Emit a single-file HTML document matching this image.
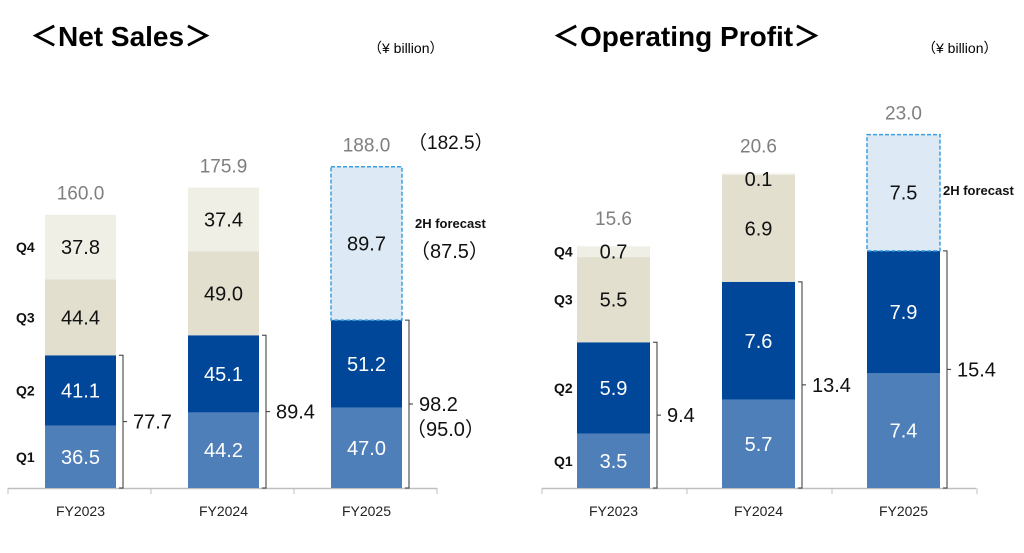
<!DOCTYPE html>
<html><head><meta charset="utf-8"><style>
body{margin:0;background:#fff;width:1024px;height:548px;overflow:hidden}
svg text{font-family:"Liberation Sans","Noto Sans CJK JP",sans-serif}
</style></head><body>
<svg id="c" width="1024" height="548">
<text x="30" y="46" font-size="28" font-weight="bold">＜Net Sales＞</text>
<text x="368" y="53" font-size="14">（¥ billion）</text>
<text x="552" y="46" font-size="28" font-weight="bold">＜Operating Profit＞</text>
<text x="922" y="53" font-size="14">（¥ billion）</text>
</svg>
<script>
const years = ["FY2023","FY2024","FY2025"];
const salesQ1 = [36.5,44.2,47.0];
const salesQ2 = [41.1,45.1,51.2];
const salesQ3 = [44.4,49.0,null];
const salesQ4 = [37.8,37.4,null];
const salesForecast = [null,null,89.7];
const salesTotal = ["160.0","175.9","188.0"];
const salesHalf = ["77.7","89.4","98.2"];
const profitQ1 = [3.5,5.7,7.4];
const profitQ2 = [5.9,7.6,7.9];
const profitQ3 = [5.5,6.9,null];
const profitQ4 = [0.7,0.1,null];
const profitForecast = [null,null,7.5];
const profitTotal = ["15.6","20.6","23.0"];
const profitHalf = ["9.4","13.4","15.4"];

const svg=document.getElementById('c');
const NS='http://www.w3.org/2000/svg';
function mk(t,a,txt){const e=document.createElementNS(NS,t);for(const k in a)e.setAttribute(k,a[k]);if(txt!=null)e.textContent=txt;svg.appendChild(e);return e;}

function chart(cfg){
  const base=488, x0=cfg.x0, step=cfg.step, bw=cfg.bw, s=cfg.scale;
  const ax=mk('line',{x1:cfg.axL,x2:cfg.axR,y1:base+0.5,y2:base+0.5,stroke:'#bfbfbf','stroke-width':1.5});
  
  
  for(let i=0;i<=3;i++){const t=mk('line',{x1:cfg.axL+i*step,x2:cfg.axL+i*step,y1:base,y2:base+6,stroke:'#bfbfbf'});
    
    }
  const segs=[[cfg.q1,'#4f7fb9','#fff','q1'],[cfg.q2,'#00479a','#fff','q2'],[cfg.q3,'#e2dfcf','#111','q3'],[cfg.q4,'#f0efe6','#111','q4'],[cfg.fc,'#dde9f5','#111','forecast']];
  years.forEach((y,i)=>{
    const x=x0+i*step; let top=base; let small=false;
    const c=x+bw/2;
    segs.forEach(([arr,col,tc,nm])=>{
      const v=arr[i]; if(v==null)return;
      const h=v*s; top-=h;
      const r=mk('rect',{x:x,y:top,width:bw,height:h,fill:col});
      if(nm==='forecast'){r.setAttribute('stroke','#3d9fe0');r.setAttribute('stroke-dasharray','4,2');r.setAttribute('stroke-width','1.5');}
      
      
      let ly=top+h/2+7; small=false;
      if(h<14){ ly=top+h/2+7+ (h<4?5:0); small=true; }
      const t=mk('text',{x:c,y:ly,'font-size':20,'text-anchor':'middle',fill:tc},v.toFixed(1));
      
      
    });
    const tt=mk('text',{x:c,y:top-(small?21:15),'font-size':19,'text-anchor':'middle',fill:'#7f7f7f'},cfg.tot[i]);
    
    
    const xl=mk('text',{x:c,y:516,'font-size':14,'text-anchor':'middle',fill:'#222'},y);
    
    
    const h1=(cfg.q1[i]+cfg.q2[i])*s, bt=base-h1, bx=x+bw+3, mid=base-h1/2;
    const b=mk('path',{d:`M${bx} ${bt}H${bx+4}V${base}H${bx} M${bx+4} ${mid}H${bx+8}`,fill:'none',stroke:'#333','stroke-width':1});
    
    
    const hl=mk('text',{x:bx+14,y:mid+7,'font-size':20,fill:'#111'},cfg.half[i]);
    
    
  });
  let top=base;
  [['Q1',cfg.q1],['Q2',cfg.q2],['Q3',cfg.q3],['Q4',cfg.q4]].forEach(([q,arr])=>{
    const h=arr[0]*s; top-=h;
    const t=mk('text',{x:cfg.qx,y:top+h/2+5,'font-size':14,'font-weight':'bold',fill:'#111'},q);
    
    
  });
}
chart({p:'sales',x0:45,step:143,bw:71,scale:1.71,axL:8,axR:437,qx:16,q1:salesQ1,q2:salesQ2,q3:salesQ3,q4:salesQ4,fc:salesForecast,tot:salesTotal,half:salesHalf});
chart({p:'profit',x0:577,step:145,bw:73,scale:15.5,axL:542,axR:976,qx:554,q1:profitQ1,q2:profitQ2,q3:profitQ3,q4:profitQ4,fc:profitForecast,tot:profitTotal,half:profitHalf});

function txt(x,y,sz,w,s,n){const t=mk('text',{x:x,y:y,'font-size':sz,'font-weight':w,fill:'#111'},s);
  
  }
txt(408,149,19,'normal','（182.5）','sales-forecast-plan-total');
txt(415,228,13,'bold','2H forecast','sales-2h-forecast-label');
txt(410,258,20,'normal','（87.5）','sales-forecast-plan-2h');
txt(406,436,20,'normal','（95.0）','sales-forecast-plan-1h');
txt(943,195,13,'bold','2H forecast','profit-2h-forecast-label');
</script>
</body></html>
